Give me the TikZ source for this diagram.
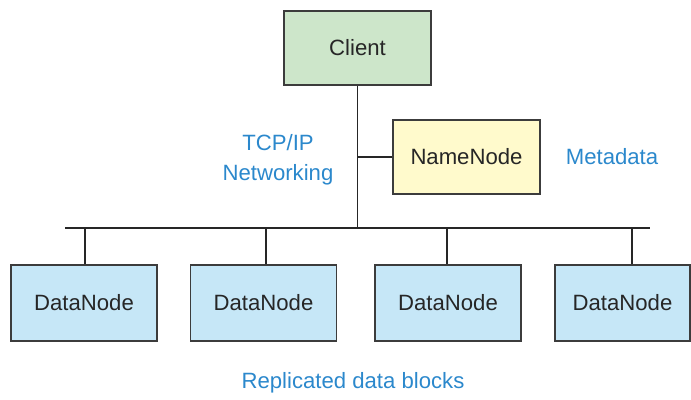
\documentclass[tikz,border=0pt]{standalone}
\usepackage{fontspec}
\setmainfont{Liberation Sans}
\usepackage{tikz}

\definecolor{clientgreen}{RGB}{205,230,202}
\definecolor{nameyellow}{RGB}{255,250,204}
\definecolor{datablue}{RGB}{198,231,247}
\definecolor{labelblue}{RGB}{43,136,204}
\definecolor{boxgray}{RGB}{60,60,60}

\tikzset{
    box/.style={draw=boxgray, line width=1.1pt, minimum width=2.94cm, minimum height=1.48cm,
        font=\fontsize{12.6}{15}\selectfont, text=black!85},
    datanode/.style={box, fill=datablue, minimum width=2.92cm, minimum height=1.52cm},
    wire/.style={draw=black!85, line width=0.8pt},
    note/.style={text=labelblue, font=\fontsize{12.6}{17}\selectfont, align=center}
}

\begin{document}
\begin{tikzpicture}
    \useasboundingbox (0,0) rectangle (13.82,-8);
    % boxes
    \node[box, fill=clientgreen] (client) at (7.15,-0.96) {Client};
    \node[box, fill=nameyellow] (namenode) at (9.33,-3.14) {NameNode};
    \node[datanode] (dn1) at (1.68,-6.06) {DataNode};
    \node[datanode] (dn2) at (5.27,-6.06) {DataNode};
    \node[datanode] (dn3) at (8.96,-6.06) {DataNode};
    \node[datanode, minimum width=2.7cm] (dn4) at (12.45,-6.06) {DataNode};
    % network
    \coordinate (busL) at (1.3,-4.56);
    \coordinate (busR) at (13.0,-4.56);
    \draw[wire] (busL) -- (busR);
    \draw[wire] (client.south) -- (client.south |- busL);
    \draw[wire] (namenode.west) -- (namenode.west -| client.south);
    \draw[wire] ([xshift=0.02cm]dn1.north) -- ([xshift=0.02cm]dn1.north |- busL);
    \draw[wire] ([xshift=0.05cm]dn2.north) -- ([xshift=0.05cm]dn2.north |- busL);
    \draw[wire] ([xshift=-0.02cm]dn3.north) -- ([xshift=-0.02cm]dn3.north |- busL);
    \draw[wire] ([xshift=0.19cm]dn4.north) -- ([xshift=0.19cm]dn4.north |- busL);
    % labels
    \node[note] (tcp) at (5.56,-3.2) {TCP/IP\\Networking};
    \node[note] (meta) at (12.24,-3.14) {Metadata};
    \node[note] (repl) at (7.06,-7.66) {Replicated data blocks};
\end{tikzpicture}
\end{document}
